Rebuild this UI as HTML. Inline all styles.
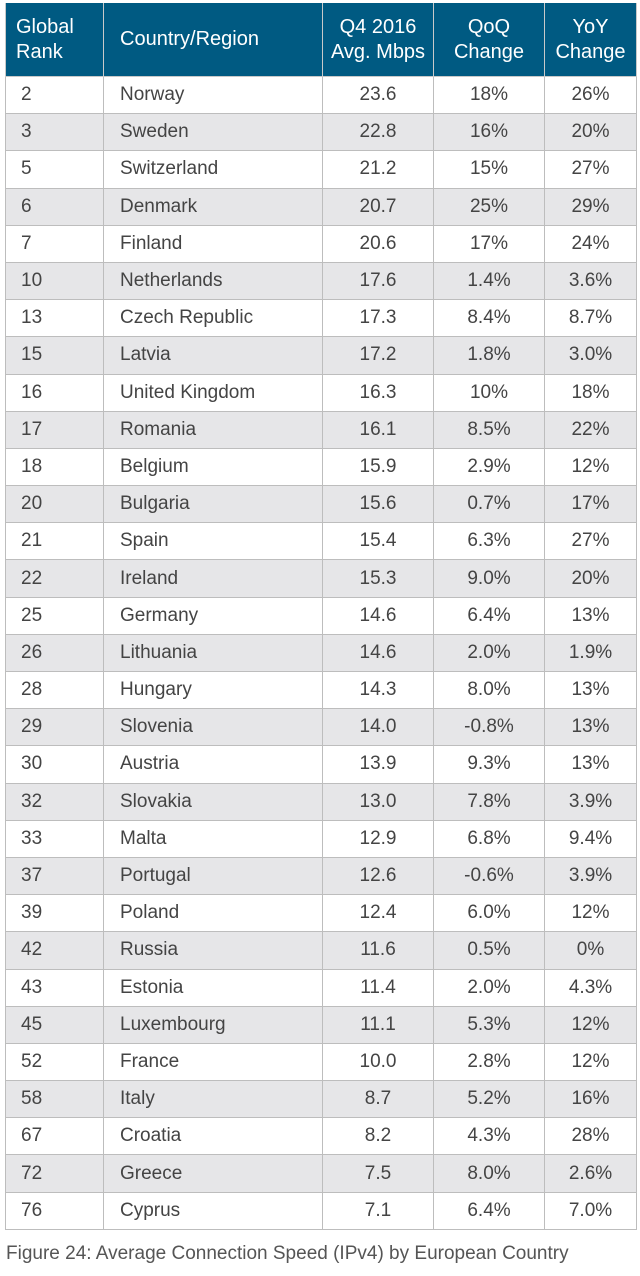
<!DOCTYPE html>
<html><head><meta charset="utf-8"><style>
body{margin:0;width:640px;height:1276px;background:#fff;font-family:"Liberation Sans",sans-serif;position:relative;overflow:hidden}
table{position:absolute;left:5px;top:3px;border-collapse:collapse;width:631px;table-layout:fixed}
th{background:#005a82;color:#fff;font-weight:normal;font-size:20px;line-height:25px;height:73px;padding:0;border:1px solid #c9c9c9;border-top:none}
td{height:36.2px;padding:0;border:1px solid #bdbdbd;font-size:19px;color:#444;text-align:center}
tr:nth-child(even) td{background:#e6e6e8}
td.l{text-align:left;padding-left:15px}
td.c2{text-align:left;padding-left:16px}
th.l{text-align:left;padding-left:10px}
th.c2{text-align:left;padding-left:16px}
.cap{position:absolute;left:6px;top:1243px;font-size:19px;color:#555}
</style></head><body>
<table>
<colgroup><col style="width:98px"><col style="width:219px"><col style="width:111px"><col style="width:111px"><col style="width:92px"></colgroup>
<thead><tr>
<th class="l">Global<br>Rank</th>
<th class="c2">Country/Region</th>
<th>Q4 2016<br>Avg. Mbps</th>
<th>QoQ<br>Change</th>
<th>YoY<br>Change</th></tr></thead>
<tbody id="tb"></tbody></table>
<div class="cap">Figure 24: Average Connection Speed (IPv4) by European Country</div>
<script>
const ranks=[2,3,5,6,7,10,13,15,16,17,18,20,21,22,25,26,28,29,30,32,33,37,39,42,43,45,52,58,67,72,76];
const countries=["Norway","Sweden","Switzerland","Denmark","Finland","Netherlands","Czech Republic","Latvia","United Kingdom","Romania","Belgium","Bulgaria","Spain","Ireland","Germany","Lithuania","Hungary","Slovenia","Austria","Slovakia","Malta","Portugal","Poland","Russia","Estonia","Luxembourg","France","Italy","Croatia","Greece","Cyprus"];
const speeds=["23.6","22.8","21.2","20.7","20.6","17.6","17.3","17.2","16.3","16.1","15.9","15.6","15.4","15.3","14.6","14.6","14.3","14.0","13.9","13.0","12.9","12.6","12.4","11.6","11.4","11.1","10.0","8.7","8.2","7.5","7.1"];
const qoq=["18%","16%","15%","25%","17%","1.4%","8.4%","1.8%","10%","8.5%","2.9%","0.7%","6.3%","9.0%","6.4%","2.0%","8.0%","-0.8%","9.3%","7.8%","6.8%","-0.6%","6.0%","0.5%","2.0%","5.3%","2.8%","5.2%","4.3%","8.0%","6.4%"];
const yoy=["26%","20%","27%","29%","24%","3.6%","8.7%","3.0%","18%","22%","12%","17%","27%","20%","13%","1.9%","13%","13%","13%","3.9%","9.4%","3.9%","12%","0%","4.3%","12%","12%","16%","28%","2.6%","7.0%"];
const tb=document.getElementById('tb');
ranks.forEach((r,i)=>{
 const tr=document.createElement('tr');
 
 
 [[r,'l','rank'],[countries[i],'c2','country'],[speeds[i],'','speed'],[qoq[i],'','qoq'],[yoy[i],'','yoy']].forEach(c=>{
  const td=document.createElement('td');
  td.textContent=c[0];
  if(c[1])td.className=c[1];
  
  
  tr.appendChild(td);
 });
 tb.appendChild(tr);
});
</script>
</body></html>
